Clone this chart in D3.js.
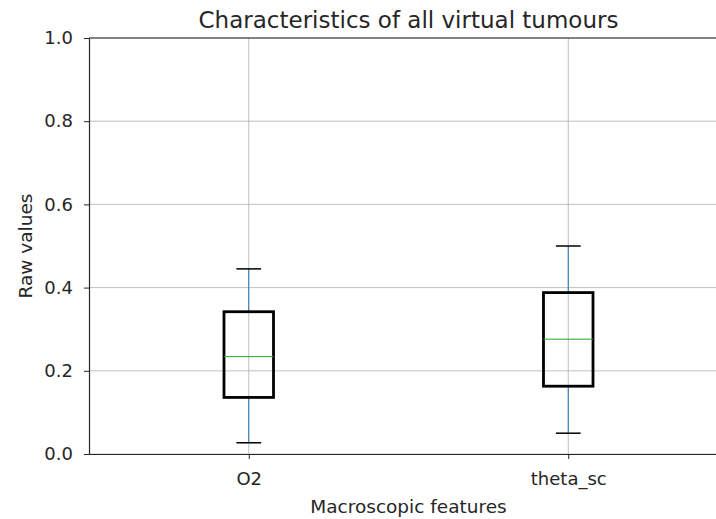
<!DOCTYPE html>
<html lang="en">
<head>
	<meta charset="UTF-8">
	<title>Characteristics of all virtual tumours</title>
	<style>
		body { margin: 0; background: #fff; }
		text { font-family: "DejaVu Sans", sans-serif; fill: #262626; }
	</style>
</head>
<body>
<script src="https://d3js.org/d3.v7.min.js"></script>
<script>
	// data
	let features = ['O2', 'theta_sc'];
	let whiskerLow = [0.027, 0.050];
	let q1 = [0.136, 0.163];
	let medians = [0.234, 0.276];
	let q3 = [0.342, 0.388];
	let whiskerHigh = [0.445, 0.500];
	let yTicks = [0.0, 0.2, 0.4, 0.6, 0.8, 1.0];

	let width = 716;
	let height = 519;
	let padding = { top: 38, right: -12, bottom: 65, left: 89 };
	let plotW = width - padding.left - padding.right;
	let plotH = height - padding.top - padding.bottom;

	let xScale = d3.scaleLinear()
			.domain([0.5, features.length + 0.5])
			.range([0, plotW]);
	let yScale = d3.scaleLinear()
			.domain([0, 1])
			.range([plotH, 0]);

	let svg = d3.select('body')
			.append('svg')
			.attr('width', width)
			.attr('height', height);

	let g = svg.append('g')
			.attr('transform', 'translate(' + padding.left + ',' + padding.top + ')');

	// grid
	g.append('g')
			.selectAll('line')
			.data(yTicks)
			.enter()
			.append('line')
			.attr('x1', 0)
			.attr('x2', plotW)
			.attr('y1', d => yScale(d))
			.attr('y2', d => yScale(d))
			.attr('stroke', '#b0b0b0')
			.attr('stroke-width', 0.8);
	g.append('g')
			.selectAll('line')
			.data(features)
			.enter()
			.append('line')
			.attr('x1', (d, i) => xScale(i + 1))
			.attr('x2', (d, i) => xScale(i + 1))
			.attr('y1', 0)
			.attr('y2', plotH)
			.attr('stroke', '#b0b0b0')
			.attr('stroke-width', 0.8);

	// boxes
	let boxW = xScale(1.155) - xScale(1);
	let capW = boxW / 2;
	let boxes = g.append('g')
			.selectAll('g')
			.data(features)
			.enter()
			.append('g');

	boxes.append('line')
			.attr('x1', (d, i) => xScale(i + 1))
			.attr('x2', (d, i) => xScale(i + 1))
			.attr('y1', (d, i) => yScale(whiskerLow[i]))
			.attr('y2', (d, i) => yScale(q1[i]))
			.attr('stroke', '#1f77b4')
			.attr('stroke-width', 1);
	boxes.append('line')
			.attr('x1', (d, i) => xScale(i + 1))
			.attr('x2', (d, i) => xScale(i + 1))
			.attr('y1', (d, i) => yScale(q3[i]))
			.attr('y2', (d, i) => yScale(whiskerHigh[i]))
			.attr('stroke', '#1f77b4')
			.attr('stroke-width', 1);
	boxes.append('line')
			.attr('x1', (d, i) => xScale(i + 1) - capW / 2)
			.attr('x2', (d, i) => xScale(i + 1) + capW / 2)
			.attr('y1', (d, i) => yScale(whiskerLow[i]))
			.attr('y2', (d, i) => yScale(whiskerLow[i]))
			.attr('stroke', '#000')
			.attr('stroke-width', 1.5);
	boxes.append('line')
			.attr('x1', (d, i) => xScale(i + 1) - capW / 2)
			.attr('x2', (d, i) => xScale(i + 1) + capW / 2)
			.attr('y1', (d, i) => yScale(whiskerHigh[i]))
			.attr('y2', (d, i) => yScale(whiskerHigh[i]))
			.attr('stroke', '#000')
			.attr('stroke-width', 1.5);
	boxes.append('rect')
			.attr('x', (d, i) => xScale(i + 1) - boxW / 2)
			.attr('y', (d, i) => yScale(q3[i]))
			.attr('width', boxW)
			.attr('height', (d, i) => yScale(q1[i]) - yScale(q3[i]))
			.attr('fill', 'none')
			.attr('stroke', '#000')
			.attr('stroke-width', 2.8);
	boxes.append('line')
			.attr('x1', (d, i) => xScale(i + 1) - boxW / 2)
			.attr('x2', (d, i) => xScale(i + 1) + boxW / 2)
			.attr('y1', (d, i) => yScale(medians[i]))
			.attr('y2', (d, i) => yScale(medians[i]))
			.attr('stroke', '#2ca02c')
			.attr('stroke-width', 1);

	// axes
	let xAxis = d3.axisBottom(xScale)
			.tickValues(features.map((d, i) => i + 1))
			.tickFormat((d, i) => features[i])
			.tickSize(5)
			.tickPadding(13)
			.tickSizeOuter(0);
	let yAxis = d3.axisLeft(yScale)
			.tickValues(yTicks)
			.tickFormat(d3.format('.1f'))
			.tickSize(5)
			.tickPadding(11)
			.tickSizeOuter(0);

	let gx = g.append('g')
			.attr('transform', 'translate(0,' + plotH + ')')
			.call(xAxis);
	let gy = g.append('g')
			.call(yAxis);
	[gx, gy].forEach(a => {
		a.selectAll('text').attr('font-size', '18px').attr('font-family', '"DejaVu Sans", sans-serif').attr('fill', '#262626');
		a.selectAll('line').attr('stroke', '#262626').attr('stroke-width', 1);
		a.select('.domain').attr('stroke', '#262626').attr('stroke-width', 1.2);
	});
	gx.selectAll('text').attr('dy', '0');
	gx.selectAll('.tick text').attr('y', 31);

	// top spine
	g.append('line')
			.attr('x1', 0)
			.attr('x2', plotW)
			.attr('y1', 0)
			.attr('y2', 0)
			.attr('stroke', '#262626')
			.attr('stroke-width', 1.2);

	// titles
	svg.append('text')
			.attr('x', padding.left + plotW / 2)
			.attr('y', 28)
			.attr('text-anchor', 'middle')
			.attr('font-size', '23px')
			.text('Characteristics of all virtual tumours');
	svg.append('text')
			.attr('x', padding.left + plotW / 2)
			.attr('y', 513)
			.attr('text-anchor', 'middle')
			.attr('font-size', '18.5px')
			.text('Macroscopic features');
	svg.append('text')
			.attr('transform', 'translate(32,' + (padding.top + plotH / 2) + ') rotate(-90)')
			.attr('text-anchor', 'middle')
			.attr('font-size', '18.5px')
			.text('Raw values');
</script>
</body>
</html>
